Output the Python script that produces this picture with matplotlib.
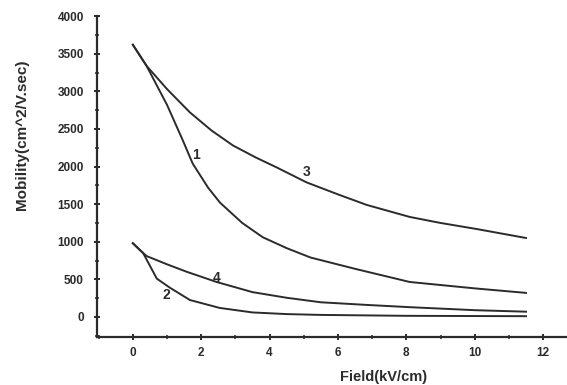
import matplotlib.pyplot as plt
from matplotlib.ticker import MultipleLocator

# curve data (field in kV/cm, mobility in cm^2/V.sec)
x1 = [0, 0.4, 1.0, 1.46, 1.75, 2.2, 2.55, 3.2, 3.8, 4.5, 5.2, 6.5, 8.1, 10.0, 11.5]
y1 = [3620, 3340, 2820, 2350, 2040, 1720, 1520, 1250, 1060, 915, 790, 640, 465, 380, 320]

x3 = [0, 0.4, 1.0, 1.67, 2.3, 2.93, 3.6, 4.2, 5.08, 6.0, 6.84, 8.1, 9.0, 10.05, 11.5]
y3 = [3620, 3340, 3030, 2720, 2480, 2280, 2120, 1990, 1790, 1630, 1490, 1330, 1250, 1170, 1050]

x4 = [0, 0.3, 0.4, 1.0, 1.58, 2.45, 3.5, 4.5, 5.5, 6.84, 8.1, 10.0, 11.5]
y4 = [980, 850, 810, 700, 600, 465, 330, 255, 195, 160, 130, 90, 70]

x2 = [0, 0.3, 0.7, 1.08, 1.67, 2.54, 3.5, 4.5, 5.5, 8.0, 11.5]
y2 = [980, 850, 510, 390, 225, 120, 60, 38, 27, 15, 10]

labels = ['1', '3', '4', '2']
label_x = [1.84, 5.09, 2.46, 0.99]
label_y = [2150, 1925, 520, 290]

ink = '#2b2b2b'
plt.rcParams['font.family'] = ['Liberation Sans', 'DejaVu Sans']

fig = plt.figure(figsize=(5.67, 3.85), dpi=100)
ax = fig.add_axes([0.171, 0.125, 0.829, 0.833])

for xs, ys in [(x1, y1), (x3, y3), (x4, y4), (x2, y2)]:
    ax.plot(xs, ys, color=ink, lw=1.4)

for t, lx, ly in zip(labels, label_x, label_y):
    ax.text(lx, ly, t, fontsize=10, fontweight='bold', color=ink,
            ha='center', va='center')

ax.set_xlim(-1.05, 12.7)
ax.set_ylim(-265, 4000)
ax.xaxis.set_minor_locator(MultipleLocator(1))
ax.yaxis.set_minor_locator(MultipleLocator(250))
ax.set_xticks([0, 2, 4, 6, 8, 10, 12])
ax.set_yticks([0, 500, 1000, 1500, 2000, 2500, 3000, 3500, 4000])

for s in ['top', 'right']:
    ax.spines[s].set_visible(False)
for s in ['left', 'bottom']:
    ax.spines[s].set_linewidth(1.6)
    ax.spines[s].set_color(ink)

ax.tick_params(which='major', length=5, width=1.4, color=ink, labelcolor=ink,
               labelsize=8.5)
ax.tick_params(which='minor', length=3, width=1.1, color=ink)
ax.tick_params(axis='both', which='both', direction='inout')
ax.tick_params(axis='x', which='major', pad=5)
ax.tick_params(axis='y', which='major', pad=7)
for lab in ax.get_xticklabels() + ax.get_yticklabels():
    lab.set_fontweight('bold')

ax.set_xlabel('Field(kV/cm)', fontsize=10.5, fontweight='bold', color=ink,
              va='center')
ax.xaxis.set_label_coords(0.61, -0.125)
ax.set_ylabel('Mobility(cm^2/V.sec)', fontsize=11, fontweight='bold', color=ink)
ax.yaxis.set_label_coords(-0.145, 0.63)

fig.savefig('out.png', dpi=100)
